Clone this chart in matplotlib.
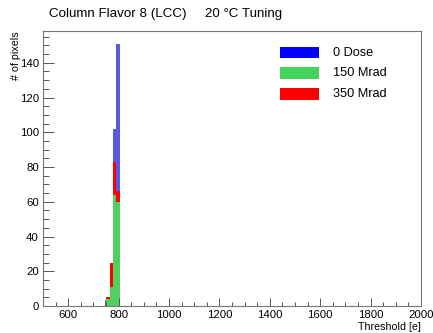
import matplotlib
matplotlib.use('Agg')
import matplotlib.pyplot as plt
from matplotlib.patches import Rectangle
from matplotlib.ticker import MultipleLocator

plt.rcParams['font.family'] = ['Liberation Sans', 'DejaVu Sans']

# histogram bins (lower edges) and contents
bin_lo = [751, 764, 777, 791]
bin_w = 13.3
dose0 = [0, 0, 102, 151]
mrad350 = [5, 25, 83, 66]
mrad150 = [4, 11, 64, 60]
edge_x = [747]
edge_h = [3.5]

labels = ['0 Dose', '150 Mrad', '350 Mrad']
legend_colors = ['#0000ff', '#44d45c', '#ff0000']
bar_blue = '#5a5ae0'

W, H = 433, 333
fig = plt.figure(figsize=(W / 100, H / 100), dpi=100)
ax = fig.add_axes([43 / W, 1 - 306 / H, 378 / W, 275 / H])

ax.bar(bin_lo, dose0, width=bin_w, align='edge', color=bar_blue, linewidth=0)
ax.bar(bin_lo, mrad350, width=bin_w, align='edge', color='#ff0000', linewidth=0)
ax.bar(bin_lo, mrad150, width=bin_w, align='edge', color='#50d060', linewidth=0)
ax.bar(edge_x, edge_h, width=3, align='edge', color='#666666', linewidth=0)

ax.set_xlim(500, 2000)
ax.set_ylim(0, 158.3)
ax.xaxis.set_major_locator(MultipleLocator(200))
ax.xaxis.set_minor_locator(MultipleLocator(50))
ax.yaxis.set_major_locator(MultipleLocator(20))
ax.yaxis.set_minor_locator(MultipleLocator(5))
ax.tick_params(axis='both', which='both', direction='in', color='#555555',
               labelsize=8.2, width=0.7)
ax.tick_params(axis='y', which='major', length=8, pad=3)
ax.tick_params(axis='y', which='minor', length=4)
ax.tick_params(axis='x', which='major', length=6, pad=3)
ax.tick_params(axis='x', which='minor', length=3)
ax.set_xticks([600, 800, 1000, 1200, 1400, 1600, 1800, 2000])
for s in ax.spines.values():
    s.set_color('#777777')
    s.set_linewidth(0.8)

fig.text(421 / W, 1 - 327.5 / H, 'Threshold [e]', ha='right', va='center', fontsize=7.7)
fig.text(16 / W, 1 - 31 / H, '# of pixels', ha='center', va='top', rotation=90, fontsize=7.7)
fig.text(49 / W, 1 - 14 / H, 'Column Flavor 8 (LCC)', ha='left', va='center', fontsize=9.6)
fig.text(205 / W, 1 - 14 / H, '20 \u00b0C Tuning', ha='left', va='center', fontsize=9.6)

# legend drawn by hand
ys = [52.5, 73, 94]
for lab, col, y in zip(labels, legend_colors, ys):
    fig.patches.append(Rectangle((280 / W, 1 - (y + 5.5) / H), 39 / W, 11 / H,
                                 transform=fig.transFigure, color=col, linewidth=0))
    fig.text(333 / W, 1 - y / H, lab, ha='left', va='center', fontsize=9.2)

fig.savefig('out.png', dpi=100)
